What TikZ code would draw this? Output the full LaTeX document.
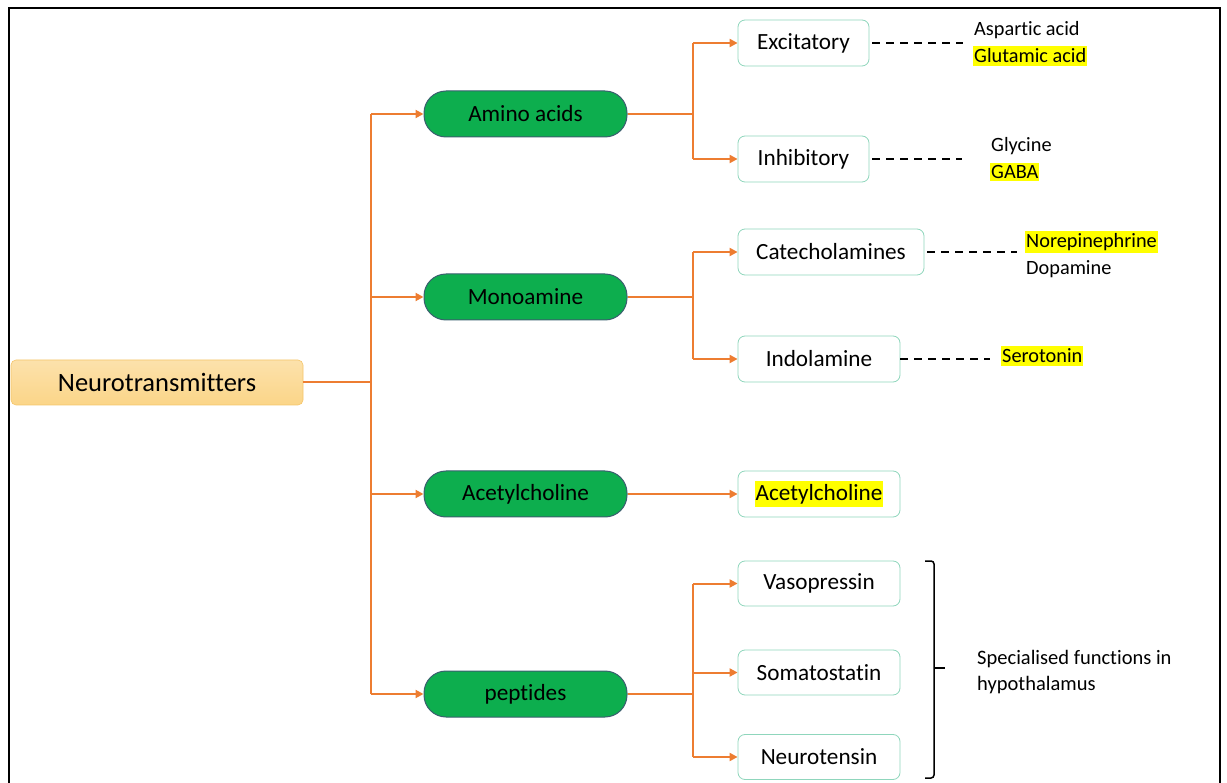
\documentclass[tikz,border=0pt]{standalone}
\usepackage{fontspec}
\setmainfont{Carlito}[Ligatures=NoCommon]
\usetikzlibrary{arrows.meta,calc}
\definecolor{conn}{HTML}{ED7D31}
\definecolor{gfill}{HTML}{0DAE4E}
\definecolor{gline}{HTML}{3A5F6E}
\definecolor{sline}{HTML}{8FD6BC}
\definecolor{ofill}{HTML}{FBD588}
\definecolor{oline}{HTML}{F5C56A}
\definecolor{hl}{HTML}{FFFF00}
\tikzset{
  x=1pt,y=-1pt,
  root/.style={draw=oline,line width=0.6pt,rounded corners=5pt,top color=ofill!70!white,bottom color=ofill,minimum width=292pt,minimum height=45pt,font=\fontsize{26.5}{30}\selectfont,inner sep=0pt},
  cat/.style={draw=gline,line width=1pt,fill=gfill,rounded corners=22pt,minimum width=203pt,minimum height=46pt,font=\fontsize{23.2}{27}\selectfont,inner sep=0pt},
  sub/.style={draw=sline,line width=0.8pt,fill=white,rounded corners=7pt,minimum height=46pt,font=\fontsize{23.2}{27}\selectfont,inner sep=0pt},
  conn/.style={draw=conn,line width=2pt},
  arr/.style={conn,-{Triangle[length=8pt,width=8pt]}},
  dashln/.style={draw=black,line width=2pt,dash pattern=on 8pt off 6pt},
  lbl/.style={font=\fontsize{20.3}{24}\selectfont,inner xsep=1pt,inner ysep=2.5pt,anchor=west},
  hlbl/.style={lbl,fill=hl},
}
\begin{document}
\begin{tikzpicture}
\useasboundingbox (0,0) rectangle (1227,783);
\draw[line width=2.2pt] (9,790) -- (9,8) -- (1220,8) -- (1220,790);

\node[root] (nt) at (157,382.5) {Neurotransmitters};

\node[cat] (aa) at (525.5,114) {Amino acids};
\node[cat] (ma) at (525.5,297) {Monoamine};
\node[cat] (ac) at (525.5,494) {Acetylcholine};
\node[cat] (pe) at (525.5,694) {peptides};

\node[sub,minimum width=131pt] (ex) at (803.5,43) {Excitatory};
\node[sub,minimum width=131pt] (in) at (803.5,159) {Inhibitory};
\node[sub,minimum width=186pt] (ca) at (831,252) {Catecholamines};
\node[sub,minimum width=162pt] (id) at (819,359) {Indolamine};
\node[sub,minimum width=162pt] (ac2) at (819,494) {\setlength{\fboxsep}{3pt}\colorbox{hl}{\hspace{-2pt}Acetylcholine\hspace{-2pt}}};
\node[sub,minimum width=162pt,minimum height=45pt] (va) at (819,583.5) {Vasopressin};
\node[sub,minimum width=162pt,minimum height=45pt] (so) at (819,672.5) {Somatostatin};
\node[sub,minimum width=162pt,minimum height=45pt] (ne) at (819,757) {Neurotensin};

\coordinate (tr) at (371,382.5);
\draw[conn] (nt.east) -- (tr);
\draw[conn] (371,114) -- (371,694);
\foreach \n in {aa,ma,ac,pe} \draw[arr] (371,0 |- \n.west) -- (\n.west);

% amino acids branch
\draw[conn] (aa.east) -- (693,114);
\draw[conn] (693,43) -- (693,159);
\draw[arr] (693,43) -- (ex.west);
\draw[arr] (693,159) -- (in.west);
% monoamine branch
\draw[conn] (ma.east) -- (693,297);
\draw[conn] (693,252) -- (693,359);
\draw[arr] (693,252) -- (ca.west);
\draw[arr] (693,359) -- (id.west);
% acetylcholine
\draw[arr] (ac.east) -- (ac2.west);
% peptides
\draw[conn] (pe.east) -- (693,694);
\draw[conn] (693,583.5) -- (693,757);
\draw[arr] (693,583.5) -- (va.west);
\draw[arr] (693,672.5) -- (so.west);
\draw[arr] (693,757) -- (ne.west);

% dashed links and labels
\coordinate (exd) at (963,43);
\coordinate (ind) at (962,159);
\coordinate (cad) at (1017,252);
\coordinate (idd) at (990,359);
\draw[dashln] ([xshift=3pt]ex.east) -- (exd);
\draw[dashln] ([xshift=3pt]in.east) -- (ind);
\draw[dashln] ([xshift=3pt]ca.east) -- (cad);
\draw[dashln] (id.east) -- (idd);

\node[lbl] (asp) at (973,30) {Aspartic acid};
\node[hlbl] (glu) at (973,56) {Glutamic acid};
\node[lbl] (gly) at (990,146) {Glycine};
\node[hlbl] (gab) at (990,172) {GABA};
\node[hlbl] (nor) at (1025,242) {Norepinephrine};
\node[lbl] (dop) at (1025,269) {Dopamine};
\node[hlbl] (ser) at (1001,356) {Serotonin};

% bracket
\coordinate (b1) at (925,561);
\coordinate (b2) at (925,778);
\draw[line width=1.5pt,rounded corners=3pt] (b1) -- (934,561) -- (934,668) -- (b2 -| 934,0) -- (b2);
\draw[line width=1.5pt] (934,668) -- (945,668);
\node[font=\fontsize{20.5}{26}\selectfont,align=left,anchor=west,inner sep=0pt] (sp) at (977,672) {Specialised functions in\\hypothalamus};
\end{tikzpicture}
\end{document}
